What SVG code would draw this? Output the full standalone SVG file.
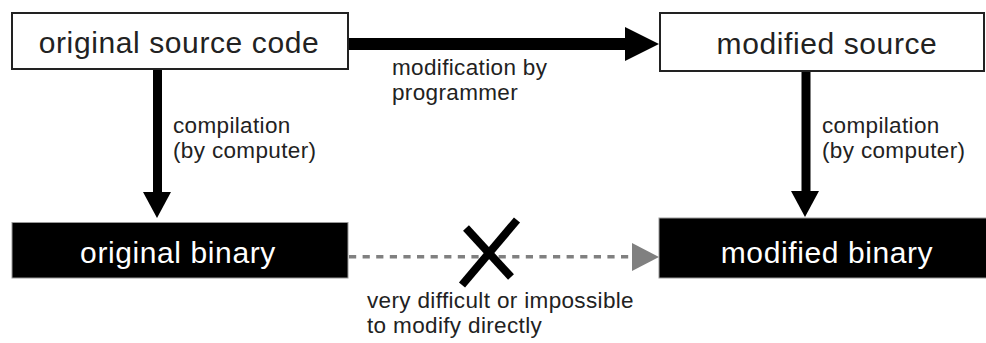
<svg xmlns="http://www.w3.org/2000/svg" width="986" height="343" viewBox="0 0 986 343">
<style>
  text { font-family: "Liberation Sans", Arial, sans-serif; }
  .box-light { fill: #ffffff; stroke: #222222; stroke-width: 2; }
  .box-dark { fill: #000000; stroke: #999999; stroke-width: 1; }
  .t-light { font-size: 30px; letter-spacing: 0.6px; fill: #222222; text-anchor: middle; }
  .t-dark { font-size: 30px; letter-spacing: 0.6px; fill: #ffffff; text-anchor: middle; }
  .label { font-size: 22.5px; letter-spacing: 0.35px; fill: #222222; }
</style>
<rect width="986" height="343" fill="#ffffff"/>
<g id="connectors">
  <!-- modification by programmer -->
  <line x1="348" y1="44" x2="627" y2="44" stroke="#000" stroke-width="12"/>
  <polygon points="625,27 659,44 625,61" fill="#000"/>
  <!-- left compilation -->
  <line x1="157.5" y1="69" x2="157.5" y2="194" stroke="#000" stroke-width="9"/>
  <polygon points="143,192 171,192 157,218" fill="#000"/>
  <!-- right compilation -->
  <line x1="806" y1="71" x2="806" y2="194" stroke="#000" stroke-width="9"/>
  <polygon points="791,191 819,191 805,217" fill="#000"/>
  <!-- direct modification (dashed) -->
  <line x1="349" y1="256.8" x2="632" y2="256.8" stroke="#808080" stroke-width="3.5" stroke-dasharray="7.2 6.4"/>
  <polygon points="632,243 659,257 632,271" fill="#808080"/>
  <!-- X mark -->
  <line x1="466" y1="228" x2="511" y2="277" stroke="#000" stroke-width="8"/>
  <line x1="517" y1="220" x2="462" y2="285" stroke="#000" stroke-width="8"/>
  <text class="label" x="392" y="75">modification by</text>
  <text class="label" x="392" y="100">programmer</text>
  <text class="label" x="173" y="133">compilation</text>
  <text class="label" x="173" y="158">(by computer)</text>
  <text class="label" x="822" y="133">compilation</text>
  <text class="label" x="822" y="158">(by computer)</text>
  <text class="label" x="367" y="308">very difficult or impossible</text>
  <text class="label" x="367" y="333">to modify directly</text>
</g>
<g id="original-source">
  <rect class="box-light" x="12" y="13" width="336" height="56"/>
  <text class="t-light" x="179" y="53">original source code</text>
</g>
<g id="modified-source">
  <rect class="box-light" x="660" y="13" width="324" height="58"/>
  <text class="t-light" x="827" y="54">modified source</text>
</g>
<g id="original-binary">
  <rect class="box-dark" x="12" y="222.5" width="336" height="55.5"/>
  <text class="t-dark" x="178" y="263">original binary</text>
</g>
<g id="modified-binary">
  <rect class="box-dark" x="659" y="218" width="330" height="60"/>
  <text class="t-dark" x="827" y="263">modified binary</text>
</g>
</svg>
